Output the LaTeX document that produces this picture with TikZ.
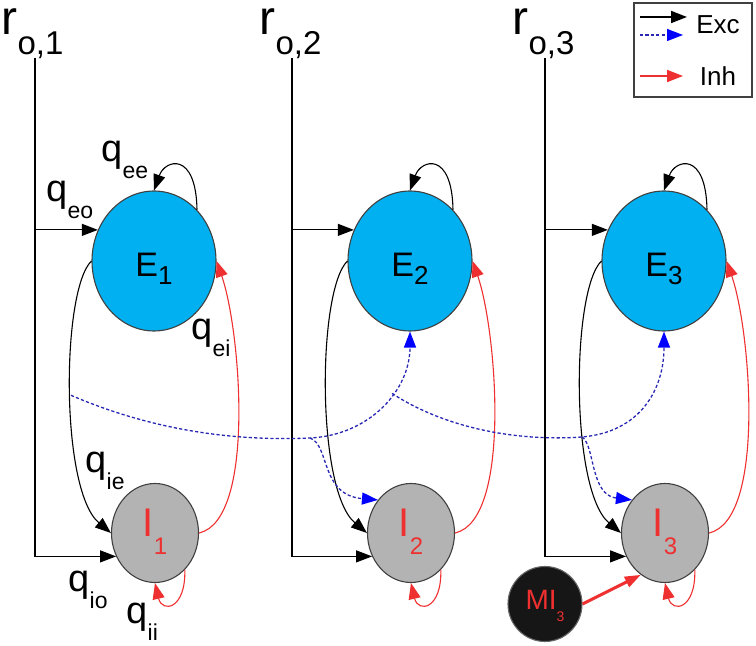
\documentclass[tikz,border=0pt]{standalone}
\usepackage{fontspec}
\setmainfont{Liberation Sans}
\usepackage{tikz}
\usetikzlibrary{arrows.meta,shapes.geometric,positioning}

\definecolor{excblue}{RGB}{0,176,240}
\definecolor{inhgrey}{RGB}{179,179,179}
\definecolor{inhred}{RGB}{238,48,48}
\definecolor{modblack}{RGB}{22,22,22}
\definecolor{dashblue}{RGB}{40,40,180}
\definecolor{tipblue}{RGB}{0,0,255}

\newcommand{\subidx}[3]{\raisebox{-#1}{\fontsize{#2}{#2}\selectfont #3}}
\newcommand{\qrate}[1]{q\subidx{8.5pt}{11.5}{#1}}

\begin{document}
\begin{tikzpicture}[
x=0.5pt, y=-0.5pt, line width=0.55pt,
>={Triangle[length=8pt,width=6pt]},
exc-node/.style = {ellipse, draw=black!75, fill=excblue, minimum width=62pt, minimum height=70pt, inner sep=0pt, font=\fontsize{17}{17}\selectfont, text height=16pt, text depth=0pt},
inh-node/.style = {ellipse, draw=black!75, fill=inhgrey, minimum width=43.5pt, minimum height=49.5pt, inner sep=0pt, text=inhred, font=\fontsize{20}{20}\selectfont, text height=4pt, text depth=0pt},
mod-node/.style = {ellipse, draw=black!60, fill=modblack, minimum width=37pt, minimum height=37.5pt, inner sep=0pt, text=inhred, font=\fontsize{14}{14}\selectfont, text height=6pt, text depth=0pt},
rate-label/.style = {anchor=base west, inner sep=0pt, font=\fontsize{24}{24}\selectfont},
q-label/.style = {anchor=base west, inner sep=0pt, font=\fontsize{19}{19}\selectfont},
key-label/.style = {inner sep=0pt, font=\fontsize{13}{13}\selectfont},
exc-arrow/.style = {->, draw=black},
inh-arrow/.style = {->, draw=inhred},
proj-arrow/.style = {-{Triangle[length=8pt,width=6pt,color=tipblue]}, draw=dashblue, line width=0.65pt, dash pattern=on 1.6pt off 1.1pt}
]
\useasboundingbox (0,0) rectangle (756,646);

% populations
\node[exc-node] (E1) at (154,261) {E\subidx{4pt}{13}{1}};
\node[exc-node] (E2) at (410,261) {E\subidx{4pt}{13}{2}};
\node[exc-node] (E3) at (664,261) {E\subidx{4pt}{13}{3}};
\node[inh-node] (I1) at (155,533) {I\subidx{9pt}{12}{1}};
\node[inh-node] (I2) at (411,533) {I\subidx{9pt}{12}{2}};
\node[inh-node] (I3) at (665,533) {I\subidx{9pt}{12}{3}};
\node[mod-node] (MI3) at (545,604) {MI\subidx{6pt}{7}{3}};

% external rates
\node[rate-label] (r1) at (1,35) {r\subidx{10pt}{16.5}{o,1}};
\node[rate-label] (r2) at (259,35) {r\subidx{10pt}{16.5}{o,2}};
\node[rate-label] (r3) at (512,35) {r\subidx{10pt}{16.5}{o,3}};
\coordinate (t1) at (35,58);
\coordinate (t2) at (292,58);
\coordinate (t3) at (545,58);

% weights
\node[q-label] (qee) at (101,162) {\qrate{ee}};
\node[q-label] (qeo) at (46,202) {\qrate{eo}};
\node[q-label] (qei) at (191,340) {\qrate{ei}};
\node[q-label] (qie) at (85,473) {\qrate{ie}};
\node[q-label] (qio) at (68,592) {\qrate{io}};
\node[q-label] (qii) at (126,624) {\qrate{ii}};

% local connections
\foreach \i in {1,2,3} {
  \draw[exc-arrow] (t\i) |- (I\i.211);
  \draw[exc-arrow] (E\i.151 -| t\i) -- (E\i.151);
  \draw[exc-arrow] (E\i.50) .. controls +(-1,-59) and +(11,-31) .. (E\i.north);
  \draw[exc-arrow] (E\i.west) .. controls +(-30,29) and +(-51,-43) .. (I\i.west) coordinate[pos=0.51] (s\i);
  \draw[inh-arrow] (I\i.east) .. controls +(57,-13) and +(24,69) .. (E\i.east);
  \draw[inh-arrow] (I\i.309) .. controls +(1,40) and +(7,30) .. (I\i.south);
}

% long range
\coordinate (j1) at (310,438);
\coordinate (j2) at (582,437);
\draw[proj-arrow] (s1) .. controls (140,425) and (220,442) .. (j1) .. controls (370,435) and (410,390) .. (E2.south) coordinate[pos=0.6] (k2);
\draw[proj-arrow] (j1) .. controls (330,445) and (320,495) .. (I2.135);
\draw[proj-arrow] (k2) .. controls (440,425) and (510,442) .. (j2) .. controls (640,432) and (664,390) .. (E3.south);
\draw[proj-arrow] (j2) .. controls (595,445) and (590,495) .. (I3.135);

\draw[inh-arrow, line width=1.5pt, -{Triangle[length=8pt,width=5.5pt]}] (MI3.east) -- (I3.240);

% legend
\node[draw=black!75, line width=0.7pt, minimum width=59pt, minimum height=47pt, inner sep=0pt] (key) at (693,50) {};
\node[key-label] (key-exc) at (718,25) {Exc};
\node[key-label] (key-inh) at (718,76) {Inh};
\coordinate (key-a) at (640,17);
\coordinate (key-b) at (640,35);
\coordinate (key-c) at (640,76);
\draw[exc-arrow, line width=0.9pt] (key-a) -- ++(47,0);
\draw[proj-arrow] (key-b) -- ++(43,0);
\draw[inh-arrow, line width=0.9pt] (key-c) -- ++(43,0);

\end{tikzpicture}
\end{document}
